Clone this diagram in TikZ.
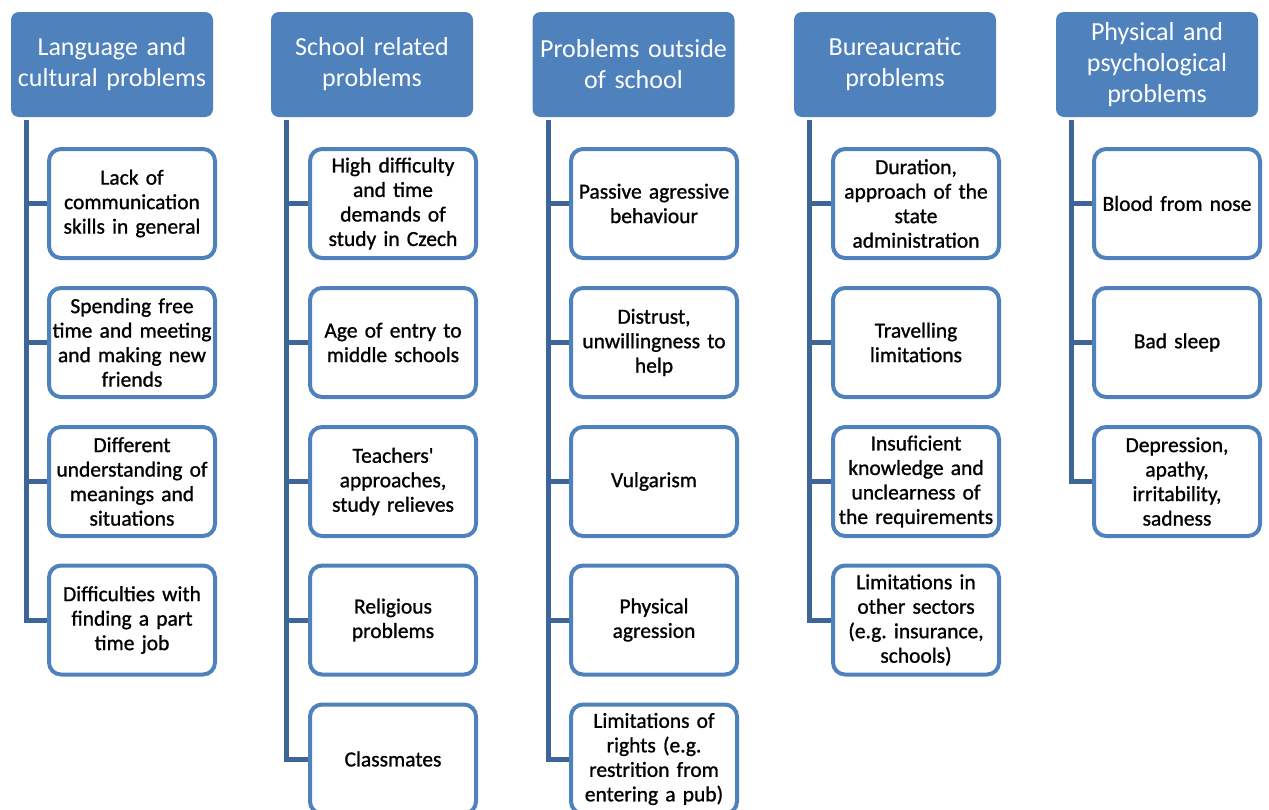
\documentclass[tikz,border=0pt]{standalone}
\usepackage{fontspec}
\setmainfont{Carlito}[WordSpace=0.7]
\newfontfamily\itemfont{Carlito}[WordSpace=0.7,FakeBold=1]
\frenchspacing

\definecolor{headblue}{HTML}{4F81BD}
\definecolor{lineblue}{HTML}{3E6597}

\tikzset{
  head/.style={fill=headblue, rounded corners=8pt, minimum width=202pt, minimum height=105pt,
    text width=196pt, align=center, text=white, inner sep=0pt,
    font=\fontsize{26}{31}\selectfont},
  item/.style={draw=headblue, line width=4pt, fill=white, rounded corners=12pt,
    minimum width=166pt, minimum height=109pt, text width=160pt, align=center,
    inner sep=0pt, font=\itemfont\fontsize{21.5}{24.5}\selectfont},
  conn/.style={draw=lineblue, line width=5pt, line join=miter}
}

\begin{document}
\begin{tikzpicture}[x=1pt,y=-1pt]

  \useasboundingbox (0,0) rectangle (1269,809);

  % headers
  \node[head] (h1) at (112,64.5) {Language and\\cultural problems};
  \node[head] (h2) at (372,64.5) {School related\\problems};
  \node[head] (h3) at (633.5,64.5) {Problems outside\\of school};
  \node[head] (h4) at (895,64.5) {Bureaucratic\\problems};
  \node[head] (h5) at (1157,64.5) {Physical and\\psychological\\problems};

  % language and culture
  \node[item] (c11) at (132,203.5) {Lack of\\communication\\skills in general};
  \node[item] (c12) at (132,342.5) {Spending free\\time and meeting\\and making new\\friends};
  \node[item] (c13) at (132,481.5) {Different\\understanding of\\meanings and\\situations};
  \node[item] (c14) at (132,620) {Difficulties with\\finding a part\\time job};

  % school
  \node[item] (c21) at (393,203.5) {High difficulty\\and time\\demands of\\study in Czech};
  \node[item] (c22) at (393,342.5) {Age of entry to\\middle schools};
  \node[item] (c23) at (393,481.5) {Teachers'\\approaches,\\study relieves};
  \node[item] (c24) at (393,620) {Religious\\problems};
  \node[item] (c25) at (393,759) {Classmates};

  % outside of school
  \node[item] (c31) at (654,203.5) {Passive agressive\\behaviour};
  \node[item] (c32) at (654,342.5) {Distrust,\\unwillingness to\\help};
  \node[item] (c33) at (654,481.5) {Vulgarism};
  \node[item] (c34) at (654,620) {Physical\\agression};
  \node[item] (c35) at (654,759) {Limitations of\\rights (e.g.\\restrition from\\entering a pub)};

  % bureaucracy
  \node[item] (c41) at (916,203.5) {Duration,\\approach of the\\state\\administration};
  \node[item] (c42) at (916,342.5) {Travelling\\limitations};
  \node[item] (c43) at (916,481.5) {Insuficient\\knowledge and\\unclearness of\\the requirements};
  \node[item] (c44) at (916,620) {Limitations in\\other sectors\\(e.g. insurance,\\schools)};

  % physical and psychological
  \node[item] (c51) at (1177,203.5) {Blood from nose};
  \node[item] (c52) at (1177,342.5) {Bad sleep};
  \node[item] (c53) at (1177,481.5) {Depression,\\apathy,\\irritability,\\sadness};

  % connectors
  \draw[conn] ([xshift=16pt,yshift=-3pt]h1.south west) |- (c11.west);
  \draw[conn] ([xshift=16pt,yshift=-3pt]h1.south west) |- (c12.west);
  \draw[conn] ([xshift=16pt,yshift=-3pt]h1.south west) |- (c13.west);
  \draw[conn] ([xshift=16pt,yshift=-3pt]h1.south west) |- (c14.west);

  \draw[conn] ([xshift=16pt,yshift=-3pt]h2.south west) |- (c21.west);
  \draw[conn] ([xshift=16pt,yshift=-3pt]h2.south west) |- (c22.west);
  \draw[conn] ([xshift=16pt,yshift=-3pt]h2.south west) |- (c23.west);
  \draw[conn] ([xshift=16pt,yshift=-3pt]h2.south west) |- (c24.west);
  \draw[conn] ([xshift=16pt,yshift=-3pt]h2.south west) |- (c25.west);

  \draw[conn] ([xshift=16pt,yshift=-3pt]h3.south west) |- (c31.west);
  \draw[conn] ([xshift=16pt,yshift=-3pt]h3.south west) |- (c32.west);
  \draw[conn] ([xshift=16pt,yshift=-3pt]h3.south west) |- (c33.west);
  \draw[conn] ([xshift=16pt,yshift=-3pt]h3.south west) |- (c34.west);
  \draw[conn] ([xshift=16pt,yshift=-3pt]h3.south west) |- (c35.west);

  \draw[conn] ([xshift=16pt,yshift=-3pt]h4.south west) |- (c41.west);
  \draw[conn] ([xshift=16pt,yshift=-3pt]h4.south west) |- (c42.west);
  \draw[conn] ([xshift=16pt,yshift=-3pt]h4.south west) |- (c43.west);
  \draw[conn] ([xshift=16pt,yshift=-3pt]h4.south west) |- (c44.west);

  \draw[conn] ([xshift=16pt,yshift=-3pt]h5.south west) |- (c51.west);
  \draw[conn] ([xshift=16pt,yshift=-3pt]h5.south west) |- (c52.west);
  \draw[conn] ([xshift=16pt,yshift=-3pt]h5.south west) |- (c53.west);

\end{tikzpicture}
\end{document}
